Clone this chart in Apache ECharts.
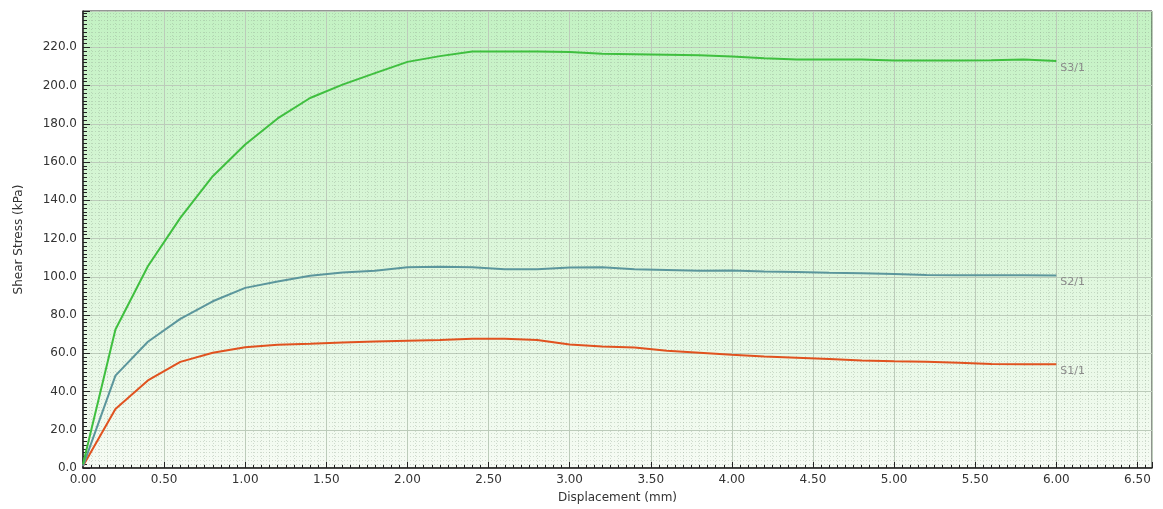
<!DOCTYPE html>
<html>
<head>
<meta charset="utf-8">
<title>Shear Stress vs Displacement</title>
<script src="https://cdn.jsdelivr.net/npm/echarts@6/dist/echarts.min.js"></script>
<style>
  html, body { margin: 0; padding: 0; background: #ffffff; }
  #chart { width: 1163px; height: 509px; }
</style>
</head>
<body>
<div id="chart"></div>
<script>
// Horizontal displacement readings (mm)
const displacement = [0.0, 0.2, 0.4, 0.6, 0.8, 1.0, 1.2, 1.4, 1.6, 1.8, 2.0, 2.2, 2.4, 2.6, 2.8, 3.0,
  3.2, 3.4, 3.6, 3.8, 4.0, 4.2, 4.4, 4.6, 4.8, 5.0, 5.2, 5.4, 5.6, 5.8, 6.0];

// Shear stress (kPa) for each specimen
const stressS1 = [1.0, 30.9, 45.8, 55.5, 60.3, 63.1, 64.5, 65.0, 65.6, 66.1, 66.5, 66.9, 67.6, 67.6, 66.9, 64.6,
  63.6, 63.0, 61.3, 60.3, 59.2, 58.3, 57.7, 57.0, 56.2, 55.8, 55.6, 55.1, 54.4, 54.3, 54.2];
const stressS2 = [1.0, 48.3, 66.0, 78.0, 87.2, 94.2, 97.5, 100.5, 102.3, 103.1, 105.0, 105.2, 105.0, 103.9, 103.9, 104.8,
  105.0, 103.9, 103.6, 103.2, 103.3, 102.7, 102.5, 102.1, 101.8, 101.5, 100.9, 100.8, 100.8, 100.8, 100.7];
const stressS3 = [2.0, 72.4, 105.5, 130.8, 152.6, 169.2, 182.8, 193.5, 200.5, 206.5, 212.4, 215.4, 217.8, 217.8, 217.8, 217.6,
  216.6, 216.4, 216.1, 215.8, 215.2, 214.3, 213.7, 213.7, 213.6, 213.1, 213.1, 213.1, 213.2, 213.6, 212.9];

const seriesNames = ['S1/1', 'S2/1', 'S3/1'];
const seriesColors = ['#e0521f', '#5b969c', '#3fbf3f'];
const seriesValues = [stressS1, stressS2, stressS3];

const xAxisTitle = 'Displacement (mm)';
const yAxisTitle = 'Shear Stress (kPa)';

const chart = echarts.init(document.getElementById('chart'), null, { renderer: 'canvas' });

const tickFont = { fontFamily: 'DejaVu Sans', fontSize: 12, color: '#333333' };
const titleFont = { fontFamily: 'DejaVu Sans', fontSize: 12, color: '#333333' };

function pairs(xs, ys) {
  return xs.map((x, i) => [x, ys[i]]);
}

chart.setOption({
  animation: false,
  backgroundColor: '#ffffff',
  grid: {
    left: 83, top: 11, right: 11, bottom: 41,
    show: true,
    borderColor: '#2a2a2a',
    borderWidth: 1,
    backgroundColor: new echarts.graphic.LinearGradient(0, 0, 0, 1, [
      { offset: 0, color: '#c3f2c3' },
      { offset: 0.55, color: '#def7dc' },
      { offset: 1, color: '#f6fbf4' }
    ])
  },
  xAxis: {
    type: 'value',
    min: 0, max: 6.59, interval: 0.5,
    name: xAxisTitle,
    nameLocation: 'middle',
    nameGap: 24,
    nameTextStyle: titleFont,
    axisLine: { show: true, onZero: false, lineStyle: { color: '#222222', width: 1.5 } },
    axisTick: { show: true, inside: true, length: 6, lineStyle: { color: '#222222' } },
    minorTick: { show: true, splitNumber: 10, length: 3, lineStyle: { color: '#222222' } },
    axisLabel: Object.assign({}, tickFont, {
      margin: 6,
      showMaxLabel: false,
      formatter: v => (Math.abs(v / 0.5 - Math.round(v / 0.5)) < 1e-6 ? v.toFixed(2) : '')
    }),
    splitLine: { show: true, lineStyle: { color: '#bccbba', width: 1 } },
    minorSplitLine: { show: true, lineStyle: { color: 'rgba(140,160,140,0.35)', type: [1, 2], width: 1 } }
  },
  yAxis: {
    type: 'value',
    min: 0, max: 239, interval: 20,
    name: yAxisTitle,
    nameLocation: 'middle',
    nameGap: 58,
    nameRotate: 90,
    nameTextStyle: titleFont,
    axisLine: { show: true, onZero: false, lineStyle: { color: '#222222', width: 1.5 } },
    axisTick: { show: true, inside: true, length: 7, lineStyle: { color: '#222222' } },
    minorTick: { show: true, splitNumber: 10, length: 4, lineStyle: { color: '#222222' } },
    axisLabel: Object.assign({}, tickFont, {
      margin: 6,
      showMaxLabel: false,
      formatter: v => (v % 20 === 0 ? v.toFixed(1) : '')
    }),
    splitLine: { show: true, lineStyle: { color: '#bccbba', width: 1 } },
    minorSplitLine: { show: true, lineStyle: { color: 'rgba(140,160,140,0.35)', type: [1, 2], width: 1 } }
  },
  series: seriesNames.map((name, i) => ({
    name: name,
    type: 'line',
    data: pairs(displacement, seriesValues[i]),
    showSymbol: false,
    symbol: 'none',
    lineStyle: { color: seriesColors[i], width: 2 },
    itemStyle: { color: seriesColors[i] },
    endLabel: {
      show: true,
      formatter: name,
      offset: [-4, 7],
      color: '#8a8a8a',
      fontFamily: 'DejaVu Sans',
      fontSize: 11
    }
  }))
});
</script>
</body>
</html>
